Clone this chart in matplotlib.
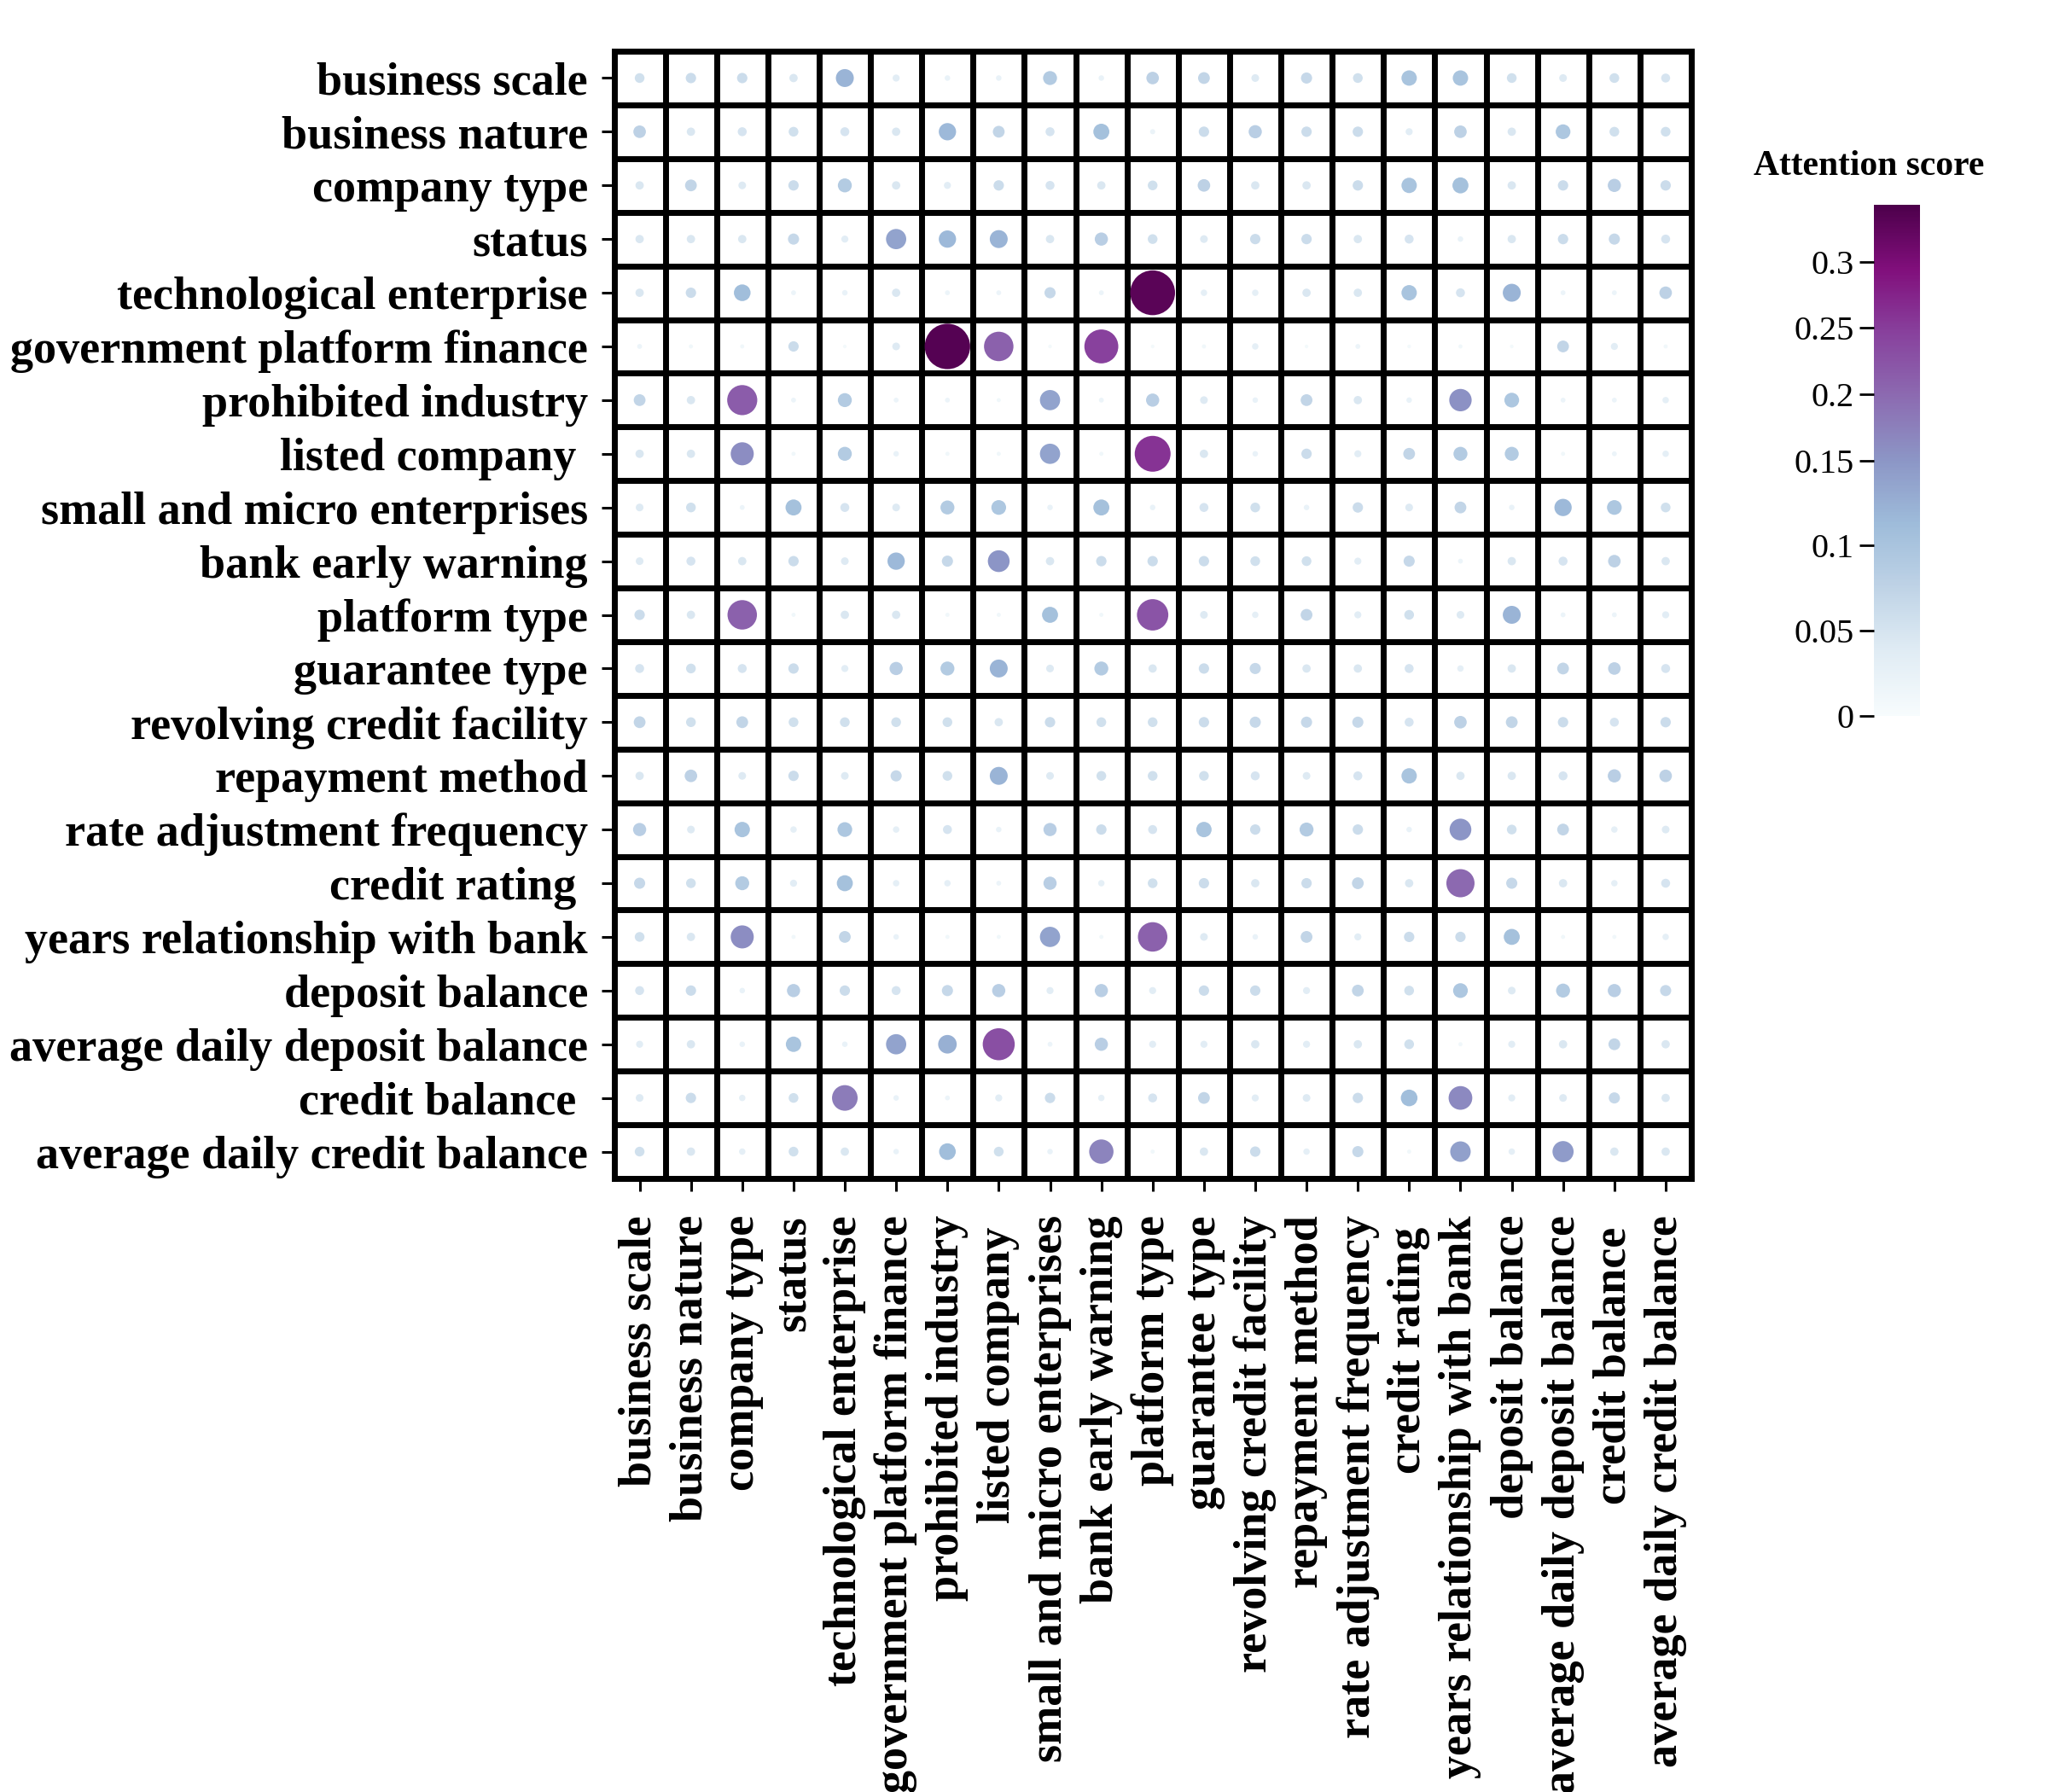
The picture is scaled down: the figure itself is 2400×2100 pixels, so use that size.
import numpy as np
import matplotlib
matplotlib.use('Agg')
import matplotlib.pyplot as plt
from matplotlib.colors import TwoSlopeNorm

plt.rcParams['font.family'] = ['Liberation Serif', 'DejaVu Serif']

# feature names (trailing spaces kept as in the original figure)
features = ['business scale', 'business nature', 'company type', 'status',
            'technological enterprise', 'government platform finance',
            'prohibited industry', 'listed company ', 'small and micro enterprises',
            'bank early warning', 'platform type', 'guarantee type',
            'revolving credit facility', 'repayment method',
            'rate adjustment frequency', 'credit rating ',
            'years relationship with bank', 'deposit balance',
            'average daily deposit balance', 'credit balance ',
            'average daily credit balance']

# attention scores, one row per feature
attention = [
    [0.056, 0.061, 0.061, 0.045, 0.12, 0.035, 0.023, 0.023, 0.089, 0.023, 0.078, 0.072, 0.04, 0.067, 0.056, 0.1, 0.1, 0.056, 0.04, 0.056, 0.05],
    [0.078, 0.045, 0.05, 0.056, 0.05, 0.045, 0.115, 0.072, 0.05, 0.105, 0.02, 0.061, 0.083, 0.061, 0.061, 0.035, 0.078, 0.045, 0.095, 0.056, 0.056],
    [0.045, 0.072, 0.04, 0.061, 0.089, 0.045, 0.035, 0.061, 0.05, 0.045, 0.056, 0.078, 0.045, 0.045, 0.061, 0.1, 0.105, 0.045, 0.061, 0.083, 0.061],
    [0.045, 0.045, 0.045, 0.067, 0.035, 0.138, 0.115, 0.12, 0.045, 0.083, 0.056, 0.04, 0.061, 0.061, 0.045, 0.05, 0.023, 0.045, 0.061, 0.067, 0.05],
    [0.045, 0.061, 0.11, 0.018, 0.023, 0.045, 0.018, 0.018, 0.067, 0.018, 0.33, 0.03, 0.03, 0.045, 0.045, 0.1, 0.05, 0.12, 0.018, 0.018, 0.078],
    [0.018, 0.012, 0.012, 0.061, 0.008, 0.04, 0.335, 0.21, 0.008, 0.245, 0.008, 0.012, 0.03, 0.008, 0.018, 0.008, 0.012, 0.008, 0.072, 0.035, 0.012],
    [0.072, 0.045, 0.215, 0.018, 0.089, 0.018, 0.018, 0.012, 0.138, 0.018, 0.083, 0.04, 0.023, 0.072, 0.045, 0.023, 0.155, 0.095, 0.018, 0.018, 0.03],
    [0.045, 0.045, 0.16, 0.012, 0.089, 0.023, 0.012, 0.012, 0.138, 0.012, 0.26, 0.045, 0.023, 0.061, 0.035, 0.072, 0.089, 0.089, 0.012, 0.018, 0.03],
    [0.04, 0.056, 0.018, 0.105, 0.05, 0.04, 0.089, 0.095, 0.023, 0.105, 0.023, 0.05, 0.056, 0.023, 0.061, 0.04, 0.072, 0.023, 0.115, 0.095, 0.056],
    [0.04, 0.05, 0.045, 0.061, 0.04, 0.115, 0.067, 0.15, 0.045, 0.061, 0.061, 0.061, 0.056, 0.056, 0.035, 0.067, 0.018, 0.045, 0.05, 0.078, 0.045],
    [0.061, 0.045, 0.21, 0.012, 0.045, 0.045, 0.012, 0.012, 0.105, 0.012, 0.225, 0.04, 0.03, 0.072, 0.035, 0.056, 0.04, 0.12, 0.018, 0.018, 0.035],
    [0.05, 0.056, 0.05, 0.061, 0.035, 0.083, 0.089, 0.12, 0.04, 0.089, 0.045, 0.061, 0.067, 0.045, 0.045, 0.05, 0.03, 0.045, 0.072, 0.078, 0.05],
    [0.072, 0.056, 0.072, 0.056, 0.056, 0.056, 0.056, 0.045, 0.061, 0.056, 0.056, 0.061, 0.067, 0.067, 0.067, 0.05, 0.078, 0.072, 0.061, 0.05, 0.061],
    [0.045, 0.078, 0.04, 0.061, 0.04, 0.067, 0.056, 0.12, 0.04, 0.056, 0.056, 0.056, 0.05, 0.04, 0.05, 0.1, 0.045, 0.045, 0.05, 0.083, 0.078],
    [0.083, 0.04, 0.1, 0.03, 0.095, 0.03, 0.05, 0.023, 0.083, 0.061, 0.05, 0.1, 0.061, 0.089, 0.061, 0.023, 0.15, 0.056, 0.072, 0.03, 0.04],
    [0.067, 0.056, 0.089, 0.035, 0.105, 0.03, 0.03, 0.018, 0.083, 0.03, 0.056, 0.061, 0.045, 0.061, 0.072, 0.045, 0.2, 0.067, 0.045, 0.03, 0.05],
    [0.056, 0.045, 0.16, 0.012, 0.072, 0.023, 0.012, 0.012, 0.138, 0.012, 0.21, 0.04, 0.023, 0.072, 0.035, 0.061, 0.061, 0.105, 0.012, 0.012, 0.03],
    [0.05, 0.061, 0.023, 0.083, 0.061, 0.05, 0.067, 0.083, 0.035, 0.083, 0.035, 0.061, 0.061, 0.035, 0.072, 0.056, 0.095, 0.04, 0.089, 0.083, 0.067],
    [0.035, 0.045, 0.023, 0.1, 0.023, 0.138, 0.125, 0.23, 0.018, 0.083, 0.035, 0.035, 0.045, 0.035, 0.045, 0.056, 0.012, 0.035, 0.045, 0.072, 0.045],
    [0.04, 0.061, 0.03, 0.056, 0.18, 0.023, 0.018, 0.035, 0.061, 0.03, 0.05, 0.072, 0.035, 0.04, 0.061, 0.11, 0.165, 0.035, 0.04, 0.067, 0.045],
    [0.056, 0.045, 0.03, 0.056, 0.045, 0.023, 0.11, 0.056, 0.023, 0.17, 0.012, 0.045, 0.061, 0.03, 0.067, 0.012, 0.14, 0.03, 0.145, 0.045, 0.045],
]

cbar_ticks = [0, 0.05, 0.1, 0.15, 0.2, 0.25, 0.3]
cbar_labels = ['0', '0.05', '0.1', '0.15', '0.2', '0.25', '0.3']

scores = np.array(attention)
n = len(features)
rows, cols = np.indices(scores.shape)

fig = plt.figure(figsize=(24, 21), dpi=100)
ax = fig.add_axes([719.5 / 2400, 1 - 1381 / 2100, 1262.5 / 2400, 1321 / 2100])

norm = TwoSlopeNorm(vmin=0, vcenter=0.15, vmax=0.343)
# marker diameter grows linearly with the score
diam = (150 * scores + 3) * 0.72
sc = ax.scatter(cols.ravel(), rows.ravel(), s=(diam ** 2).ravel(), c=scores.ravel(),
                cmap='BuPu', norm=norm, linewidths=0, zorder=3)

for k in range(n - 1):
    ax.axhline(k + 0.5, color='black', lw=5, zorder=2)
    ax.axvline(k + 0.5, color='black', lw=5, zorder=2)
for sp in ax.spines.values():
    sp.set_linewidth(5)

ax.set_xlim(-0.5, n - 0.5)
ax.set_ylim(n - 0.5, -0.5)
ax.set_xticks(range(n))
ax.set_yticks(range(n))
ax.set_xticklabels(features, rotation=90, fontsize=39, fontweight='bold', va='top')
ax.set_yticklabels(features, fontsize=39, fontweight='bold')
ax.tick_params(axis='both', length=11, width=2.2, color='black')
ax.tick_params(axis='x', pad=20)
ax.tick_params(axis='y', pad=11)

cax = fig.add_axes([2196 / 2400, 1 - 839 / 2100, 54 / 2400, 599 / 2100])
cb = fig.colorbar(sc, cax=cax)
cb.outline.set_visible(False)
cb.set_ticks(cbar_ticks)
cb.set_ticklabels(cbar_labels)
cax.yaxis.set_ticks_position('left')
cax.tick_params(length=12, width=2, labelsize=29, pad=5)
fig.text(2190 / 2400, 1 - 195 / 2100, 'Attention score', ha='center', va='center',
         fontsize=30, fontweight='bold')

fig.savefig('out.png', dpi=100)
